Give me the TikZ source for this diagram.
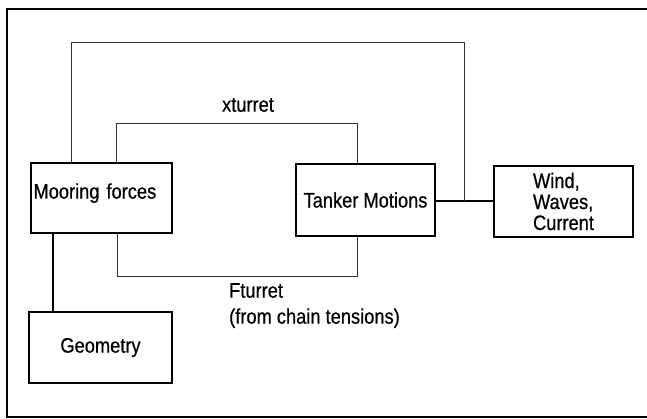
\documentclass[tikz,border=0pt]{standalone}
\usepackage{fontspec}
\setmainfont{Liberation Sans}[FakeStretch=0.87,FakeBold=0.6]
\begin{document}
\begin{tikzpicture}[x=1pt,y=-1pt,
  box/.style={draw=black,line width=1.2pt,inner sep=0pt,font=\fontsize{21}{21}\selectfont},
  loopline/.style={draw=black!80,line width=0.8pt},
  link/.style={draw=black,line width=1.3pt},
  frame/.style={draw=black,line width=2.2pt},
  lbl/.style={inner sep=0pt,font=\fontsize{21}{26}\selectfont}]
\useasboundingbox (0,0) rectangle (647,419);
\draw[frame] (650,9) -- (7,9) -- (7,417) -- (650,417);

\node[box,minimum width=141pt,minimum height=70pt,text width=136pt,align=left,text depth=14pt] (moor) at (101.5,198) {Mooring forces};
\node[box,minimum width=139pt,minimum height=72pt] (tank) at (365.5,200) {Tanker Motions};
\node[box,minimum width=139pt,minimum height=71pt,align=left] (wind) at (563.5,201.5) {Wind,\\Waves,\\Current};
\node[box,minimum width=143pt,minimum height=71pt] (geom) at (100.5,347.5) {Geometry};

\coordinate (j) at (464,201);
\draw[link] (tank.east |- j) -- (j) -- (wind.west |- j);

% outer loop
\draw[loopline] (moor.north -| 71,0) -- (71,42) -- (464,42) -- (j);
% inner top loop
\draw[loopline] (moor.north -| 116,0) -- (116,123) -- (357,123) -- (tank.north -| 357,0);
% bottom loop
\draw[loopline] (moor.south -| 117,0) -- (117,276) -- (357,276) -- (tank.south -| 357,0);
% geometry link
\draw[link] (moor.south -| 53,0) -- (geom.north -| 53,0);

\node[lbl] (xt) at (248,105) {xturret};
\node[lbl,anchor=north west,align=left] (ft) at (229,283) {Fturret\\(from chain tensions)};
\end{tikzpicture}
\end{document}
